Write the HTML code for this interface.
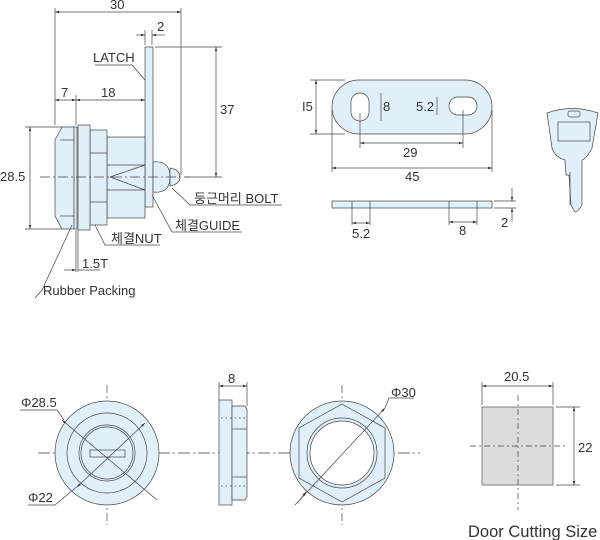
<!DOCTYPE html>
<html><head><meta charset="utf-8"><style>
html,body{margin:0;padding:0;background:#fff;width:600px;height:540px;overflow:hidden}
text{font-family:"Liberation Sans","Noto Sans CJK KR",sans-serif;fill:#333}
</style></head><body>
<svg width="600" height="540" viewBox="0 0 600 540" xmlns="http://www.w3.org/2000/svg">
<defs>
<marker id="a" viewBox="0 0 10 10" refX="10" refY="5" markerWidth="6" markerHeight="6" orient="auto-start-reverse"><path d="M0,2L10,5L0,8z" fill="#333"/></marker>
</defs>
<g stroke="#444" stroke-width="0.7" fill="none">
<line x1="55" y1="8" x2="55" y2="125"/><line x1="181" y1="8" x2="181" y2="175"/>
<line x1="55" y1="12" x2="181" y2="12" marker-start="url(#a)" marker-end="url(#a)"/>
<line x1="145" y1="30" x2="145" y2="45"/><line x1="152" y1="30" x2="152" y2="45"/>
<line x1="136" y1="35" x2="145" y2="35" marker-end="url(#a)"/><line x1="165" y1="35" x2="152" y2="35" marker-end="url(#a)"/>
<line x1="155" y1="47" x2="222" y2="47"/><line x1="185" y1="177" x2="222" y2="177"/>
<line x1="216" y1="47" x2="216" y2="177" marker-start="url(#a)" marker-end="url(#a)"/>
<line x1="76" y1="95" x2="76" y2="125"/>
<line x1="55" y1="100" x2="76" y2="100" marker-start="url(#a)" marker-end="url(#a)"/>
<line x1="76" y1="100" x2="145" y2="100" marker-start="url(#a)" marker-end="url(#a)"/>
<line x1="25" y1="127" x2="62" y2="127"/><line x1="25" y1="229" x2="62" y2="229"/>
<line x1="30" y1="127" x2="30" y2="229" marker-start="url(#a)" marker-end="url(#a)"/>
<g fill="#e0f0fb">
<rect x="145" y="47" width="8" height="160"/>
<path d="M153,162 Q170,160 170,177 Q170,194 153,192z"/>
<path d="M170,168 Q180,170 180,177 Q180,184 170,186z"/>
<rect x="107" y="137" width="38" height="81"/>
<rect x="90" y="130" width="17" height="95"/>
<rect x="78" y="125" width="12" height="105"/>
<path d="M55,140 L62,127 L74,127 L74,229 L62,229 L55,216z"/>
<rect x="74" y="127" width="3" height="102"/>
</g>
<line x1="90" y1="153" x2="107" y2="153"/><line x1="90" y1="202" x2="107" y2="202"/>
<line x1="107" y1="165" x2="145" y2="165"/><line x1="107" y1="190" x2="145" y2="190"/>
<path d="M110,177 L145,165 M110,177 L145,190"/>
<line x1="60" y1="140" x2="74" y2="140"/><line x1="60" y1="216" x2="74" y2="216"/>
<line x1="40" y1="177" x2="190" y2="177" stroke-dasharray="10,3,2,3"/>
<path d="M95,65 L132,65 L145,80"/>
<path d="M172,188 L190,205 L282,205"/>
<path d="M152,195 L172,232 L242,232"/>
<path d="M95,225 L105,245 L160,245"/>
<line x1="76" y1="230" x2="76" y2="272"/><line x1="78" y1="230" x2="78" y2="272"/>
<line x1="64" y1="270" x2="76" y2="270" marker-end="url(#a)"/><line x1="100" y1="270" x2="78" y2="270"/>
<path d="M72,225 L42,290 L35,298"/>
<line x1="310" y1="80" x2="345" y2="80"/><line x1="310" y1="134" x2="345" y2="134"/>
<line x1="316" y1="80" x2="316" y2="134" marker-start="url(#a)" marker-end="url(#a)"/>
<path d="M359,80 L465,80 A27,27 0 0 1 465,134 L359,134 A27,27 0 0 1 359,80z" fill="#e0f0fb"/>
<rect x="351" y="93" width="18" height="28" rx="9" fill="#fff"/>
<rect x="449" y="97" width="28" height="18" rx="9" fill="#fff"/>
<line x1="360" y1="113" x2="360" y2="148"/><line x1="463" y1="110" x2="463" y2="148"/>
<line x1="360" y1="143" x2="463" y2="143" marker-start="url(#a)" marker-end="url(#a)"/>
<line x1="332" y1="110" x2="332" y2="172"/><line x1="492" y1="110" x2="492" y2="172"/>
<line x1="332" y1="168" x2="492" y2="168" marker-start="url(#a)" marker-end="url(#a)"/>
<line x1="381" y1="93" x2="381" y2="121"/><line x1="437" y1="97" x2="437" y2="115"/>
<rect x="332" y="201" width="160" height="7" fill="#e0f0fb"/>
<line x1="352" y1="201" x2="352" y2="225"/><line x1="370" y1="201" x2="370" y2="225"/>
<line x1="352" y1="223" x2="370" y2="223" marker-start="url(#a)" marker-end="url(#a)"/>
<line x1="449" y1="201" x2="449" y2="225"/><line x1="477" y1="201" x2="477" y2="225"/>
<line x1="449" y1="222" x2="477" y2="222" marker-start="url(#a)" marker-end="url(#a)"/>
<line x1="494" y1="201" x2="516" y2="201"/><line x1="494" y1="208" x2="516" y2="208"/>
<line x1="512" y1="188" x2="512" y2="201" marker-end="url(#a)"/><line x1="512" y1="222" x2="512" y2="208" marker-end="url(#a)"/>
<!-- key -->
<path d="M547,113 Q572,104 598,113 L592,148 Q587,158 582,160 L582,205 Q578,212 575,212 L571,205 L569,175 L566,175 L565,160 Q555,157 552,148z" fill="#e0f0fb"/>
<rect x="558" y="122" width="32" height="19" fill="#e0f0fb"/>
<rect x="568" y="111" width="12" height="6" rx="2"/>
<line x1="570" y1="172" x2="570" y2="205"/>
<line x1="38" y1="453" x2="420" y2="453" stroke-dasharray="12,3,2,3"/>
<line x1="107" y1="385" x2="107" y2="525" stroke-dasharray="8,3,2,3"/>
<circle cx="107" cy="453" r="52" fill="#e0f0fb"/>
<circle cx="107" cy="453" r="40"/>
<circle cx="107" cy="453" r="28"/><circle cx="107" cy="453" r="26"/>
<rect x="90" y="450" width="35" height="7"/>
<line x1="62" y1="420" x2="157" y2="500" marker-start="url(#a)"/>
<line x1="77" y1="487" x2="145" y2="423" marker-start="url(#a)" marker-end="url(#a)"/>
<path d="M20,410 L57,410 L64,420"/><path d="M28,505 L55,505 L79,485"/>
<rect x="219" y="400" width="13" height="105" fill="#e0f0fb"/>
<path d="M232,406 L245,406 L247,409 L247,497 L245,500 L232,500z" fill="#e0f0fb"/>
<line x1="232" y1="429" x2="247" y2="429"/><line x1="232" y1="477" x2="247" y2="477"/>
<line x1="221" y1="418" x2="246" y2="418" stroke-dasharray="1.5,3"/><line x1="221" y1="486" x2="246" y2="486" stroke-dasharray="1.5,3"/>
<line x1="219" y1="382" x2="219" y2="400"/><line x1="247" y1="382" x2="247" y2="406"/>
<line x1="219" y1="386" x2="247" y2="386" marker-start="url(#a)" marker-end="url(#a)"/>
<line x1="342" y1="385" x2="342" y2="525" stroke-dasharray="8,3,2,3"/>
<circle cx="342" cy="453" r="52" fill="#e0f0fb"/>
<path d="M342,404 L385,428 L385,478 L342,502 L299,478 L299,428z"/>
<circle cx="342" cy="453" r="35" fill="#e0f0fb"/><circle cx="342" cy="453" r="32" fill="#fff"/>
<line x1="295" y1="505" x2="385" y2="408" marker-end="url(#a)"/>
<line x1="385" y1="408" x2="389" y2="398"/><path d="M389,398 L414,398"/>
<line x1="300" y1="500" x2="306" y2="492" marker-end="url(#a)"/>
<rect x="482" y="407" width="71" height="78" fill="#dcdcdc" stroke="#555"/>
<line x1="518" y1="395" x2="518" y2="510" stroke-dasharray="6,3,2,3"/>
<line x1="470" y1="446" x2="565" y2="446" stroke-dasharray="6,3,2,3"/>
<line x1="482" y1="382" x2="482" y2="405"/><line x1="553" y1="382" x2="553" y2="405"/>
<line x1="482" y1="386" x2="553" y2="386" marker-start="url(#a)" marker-end="url(#a)"/>
<line x1="556" y1="407" x2="580" y2="407"/><line x1="556" y1="485" x2="580" y2="485"/>
<line x1="574" y1="407" x2="574" y2="485" marker-start="url(#a)" marker-end="url(#a)"/>
</g>
<g font-size="13">
<text x="110" y="9">30</text><text x="157" y="31">2</text>
<text x="93" y="62">LATCH</text><text x="220" y="114">37</text>
<text x="61" y="97">7</text><text x="101" y="97">18</text>
<text x="0" y="181">28.5</text>
<text x="194" y="203">둥근머리 BOLT</text>
<text x="175" y="230">체결GUIDE</text>
<text x="111" y="243">체결NUT</text>
<text x="82" y="268">1.5T</text>
<text x="43" y="295">Rubber Packing</text>
<text x="302" y="111">I5</text><text x="383" y="111">8</text><text x="416" y="111">5.2</text>
<text x="403" y="157">29</text><text x="405" y="181">45</text>
<text x="352" y="238">5.2</text><text x="459" y="235">8</text><text x="501" y="227">2</text>
<text x="21" y="407">Φ28.5</text><text x="28" y="502">Φ22</text>
<text x="228" y="383">8</text><text x="391" y="397">Φ30</text>
<text x="504" y="381">20.5</text><text x="578" y="452">22</text>
<text x="468" y="537" font-size="16.5">Door Cutting Size</text>
</g>
</svg>
</body></html>
